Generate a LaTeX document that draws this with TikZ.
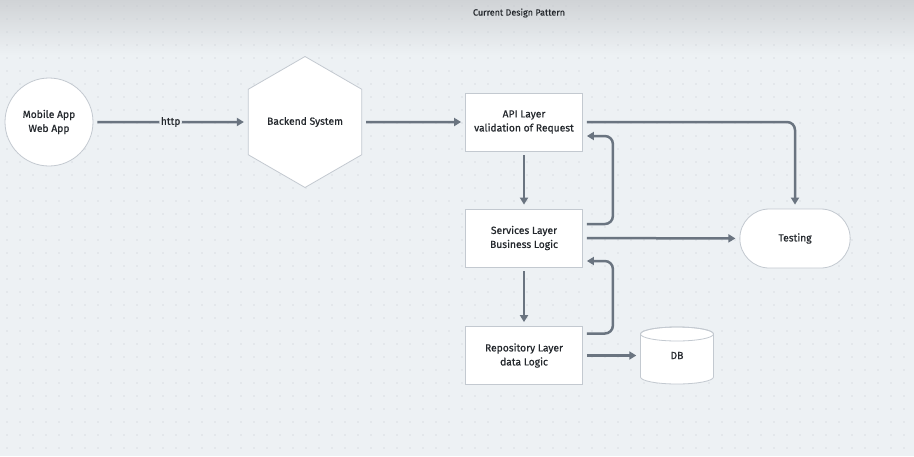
\documentclass[tikz,border=0pt]{standalone}
\usepackage{fontspec}
\setmainfont{Fira Sans}[FakeBold=0.7]
\usetikzlibrary{arrows.meta,positioning,shapes.geometric,shapes.misc}
\definecolor{bgcol}{HTML}{EDF1F4}
\definecolor{topcol}{HTML}{D0D3D6}
\definecolor{dotcol}{HTML}{C2C8CF}
\definecolor{linecol}{HTML}{6A7480}
\definecolor{edgecol}{HTML}{C3C9D0}
\definecolor{textcol}{HTML}{24282D}

\tikzset{
  shapetext/.style={text=textcol, font=\fontsize{10.3}{14}\selectfont, align=center},
  layerbox/.style={shapetext, draw=edgecol, fill=white, line width=0.8pt,
    minimum width=117pt, minimum height=58pt},
  flow/.style={draw=linecol, line width=2.5pt, rounded corners=8pt,
    shorten <=4pt, shorten >=4pt, -{Triangle[length=7pt,width=8pt]}},
}

\begin{document}
\begin{tikzpicture}[x=1pt,y=-1pt]
\useasboundingbox (0,0) rectangle (914,456);
% background with dot grid
\fill[bgcol] (0,0) rectangle (914,456);
\shade[top color=topcol, bottom color=bgcol] (0,0) rectangle (914,55);
\foreach \x in {7,20,...,914}
  \foreach \y in {6,19,...,456}
    \fill[dotcol] (\x,\y) circle (0.55pt);

% title
\node[text=textcol, font=\fontsize{9}{11}\selectfont] (title) at (519,13) {Current Design Pattern};

% clients and backend
\node[shapetext, circle, draw=edgecol, fill=white, line width=0.8pt, minimum size=88pt] (client) at (49,122) {Mobile App\\Web App};
\node[shapetext, regular polygon, regular polygon sides=6, shape border rotate=30,
  draw=edgecol, fill=white, line width=0.8pt, minimum size=131pt, inner sep=0pt] (backend) at (305,122) {Backend System};

% layers
\node[layerbox] (api) at (524,122) {API Layer\\validation of Request};
\node[layerbox] (services) at (524,238) {Services Layer\\Business Logic};
\node[layerbox] (repo) at (524,355.5) {Repository Layer\\data Logic};

% testing
\node[shapetext, rounded rectangle, draw=edgecol, fill=white, line width=0.8pt,
  minimum width=117pt, minimum height=59pt] (testing) at (795,238.5) {Testing};

% database
\filldraw[draw=edgecol, fill=white, line width=0.8pt]
  (640.5,334) -- (640.5,377) arc[start angle=180, end angle=360, x radius=36.5pt, y radius=7pt]
  -- (713.5,334) arc[start angle=0, end angle=180, x radius=36.5pt, y radius=7pt] -- cycle;
\draw[edgecol, line width=0.8pt] (677,334) ellipse[x radius=36.5pt, y radius=7pt];
\node[shapetext, minimum width=73pt, minimum height=57pt] (db) at (677,355.5) {DB};

% connectors
\draw[flow] (client) -- node[shapetext, fill=bgcol, inner sep=1.5pt] (httplabel) {http} (backend);
\draw[flow] (backend) -- (api);
\draw[flow] (api) -- (services);
\draw[flow] (services) -- (repo);
\draw[flow] ([yshift=14pt]services.east) -- ++(30,0) |- ([yshift=-14pt]api.east);
\draw[flow] ([yshift=22pt]repo.east) -- ++(30,0) |- ([yshift=-23pt]services.east);
\draw[flow] (api.east) -| (testing.north);
\draw[flow] (services) -- (testing);
\draw[flow] (repo) -- (db);
\end{tikzpicture}
\end{document}
